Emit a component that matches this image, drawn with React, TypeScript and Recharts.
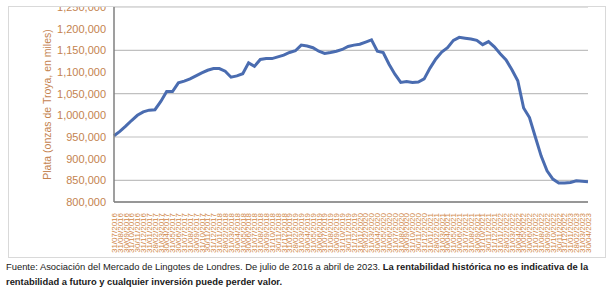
import React from "react";
import { LineChart, Line, XAxis, YAxis, CartesianGrid } from "recharts";

// month-end dates, July 2016 .. April 2023
const dates = [
  "31/07/2016", "31/08/2016", "30/09/2016", "31/10/2016", "30/11/2016", "31/12/2016",
  "31/01/2017", "28/02/2017", "31/03/2017", "30/04/2017", "31/05/2017", "30/06/2017",
  "31/07/2017", "31/08/2017", "30/09/2017", "31/10/2017", "30/11/2017", "31/12/2017",
  "31/01/2018", "28/02/2018", "31/03/2018", "30/04/2018", "31/05/2018", "30/06/2018",
  "31/07/2018", "31/08/2018", "30/09/2018", "31/10/2018", "30/11/2018", "31/12/2018",
  "31/01/2019", "28/02/2019", "31/03/2019", "30/04/2019", "31/05/2019", "30/06/2019",
  "31/07/2019", "31/08/2019", "30/09/2019", "31/10/2019", "30/11/2019", "31/12/2019",
  "31/01/2020", "29/02/2020", "31/03/2020", "30/04/2020", "31/05/2020", "30/06/2020",
  "31/07/2020", "31/08/2020", "30/09/2020", "31/10/2020", "30/11/2020", "31/12/2020",
  "31/01/2021", "28/02/2021", "31/03/2021", "30/04/2021", "31/05/2021", "30/06/2021",
  "31/07/2021", "31/08/2021", "30/09/2021", "31/10/2021", "30/11/2021", "31/12/2021",
  "31/01/2022", "28/02/2022", "31/03/2022", "30/04/2022", "31/05/2022", "30/06/2022",
  "31/07/2022", "31/08/2022", "30/09/2022", "31/10/2022", "30/11/2022", "31/12/2022",
  "31/01/2023", "28/02/2023", "31/03/2023", "30/04/2023",
];

// silver held in London vaults, thousands of troy ounces
const silver = [
  953000, 963000, 975000, 988000, 1000000, 1008000,
  1012000, 1013000, 1032000, 1055000, 1055000, 1075000,
  1079000, 1084000, 1091000, 1098000, 1104000, 1108000,
  1108000, 1102000, 1088000, 1091000, 1096000, 1121000,
  1113000, 1129000, 1131000, 1131000, 1135000, 1139000,
  1145000, 1149000, 1162000, 1160000, 1156000, 1148000,
  1143000, 1145000, 1148000, 1152000, 1159000, 1162000,
  1164000, 1169000, 1174000, 1148000, 1145000, 1118000,
  1095000, 1076000, 1078000, 1076000, 1077000, 1084000,
  1109000, 1130000, 1146000, 1156000, 1173000, 1180000,
  1178000, 1176000, 1173000, 1163000, 1170000, 1158000,
  1142000, 1128000, 1105000, 1080000, 1017000, 995000,
  950000, 906000, 872000, 853000, 844000, 844000,
  845000, 849000, 848000, 847000,
];

const yTicks = [800000, 850000, 900000, 950000, 1000000, 1050000, 1100000, 1150000, 1200000, 1250000];

const data = dates.map((d, i) => ({ date: d, plata: silver[i] }));

const DateTick = (props: any) => {
  const { x, y, payload } = props;
  return (
    <text
      x={x}
      y={y}
      transform={`rotate(-90 ${x} ${y})`}
      textAnchor="end"
      dy="0.35em"
      fontSize={8}
      fontFamily="Liberation Sans, Arial, sans-serif"
      fill="#d08848"
    >
      {payload.value}
    </text>
  );
};

export default function App() {
  return (
    <div style={{ position: "absolute", left: 0, top: 0, width: 614, height: 295, background: "#fff" }}>
      <div
        style={{
          position: "absolute",
          left: 8,
          top: 6,
          width: 598,
          height: 252,
          border: "1px solid #d9d9d9",
          boxSizing: "border-box",
          overflow: "hidden",
        }}
      >
        <div style={{ position: "absolute", left: 0, top: -10 }}>
          <LineChart width={596} height={270} data={data} margin={{ top: 10, right: 17, bottom: 5, left: 0 }}>
            <CartesianGrid vertical={false} stroke="#c0c0c0" strokeWidth={1.2} />
            <XAxis
              dataKey="date"
              interval={0}
              tick={<DateTick />}
              tickLine={false}
              tickSize={0}
              tickMargin={11}
              height={60}
              axisLine={{ stroke: "#7f7f7f", strokeWidth: 1.5 }}
            />
            <YAxis
              width={105}
              domain={[800000, 1250000]}
              ticks={yTicks}
              tickFormatter={(v: number) => v.toLocaleString("en-US")}
              tickLine={false}
              axisLine={{ stroke: "#7f7f7f", strokeWidth: 1.5 }}
              tick={{ fill: "#c4834f", fontSize: 11, fontFamily: "Liberation Sans, Arial, sans-serif" }}
              label={{
                value: "Plata (onzas de Troya, en miles)",
                angle: -90,
                position: "insideLeft",
                offset: 38,
                style: { textAnchor: "middle", fill: "#c4834f", fontSize: 10.5, fontFamily: "Liberation Sans, Arial, sans-serif" },
              }}
            />
            <Line
              type="linear"
              dataKey="plata"
              stroke="#4a6cb0"
              strokeWidth={3}
              dot={false}
              isAnimationActive={false}
            />
          </LineChart>
        </div>
      </div>
      <div
        style={{
          position: "absolute",
          left: 6,
          top: 259,
          width: 605,
          fontSize: 9.4,
          lineHeight: "15px",
          whiteSpace: "nowrap",
          color: "#1a1a1a",
          fontFamily: "Liberation Sans, Arial, sans-serif",
        }}
      >
        Fuente: Asociación del Mercado de Lingotes de Londres. De julio de 2016 a abril de 2023.{" "}
        <b>La rentabilidad histórica no es indicativa de la</b>
        <br />
        <b>rentabilidad a futuro y cualquier inversión puede perder valor.</b>
      </div>
    </div>
  );
}
